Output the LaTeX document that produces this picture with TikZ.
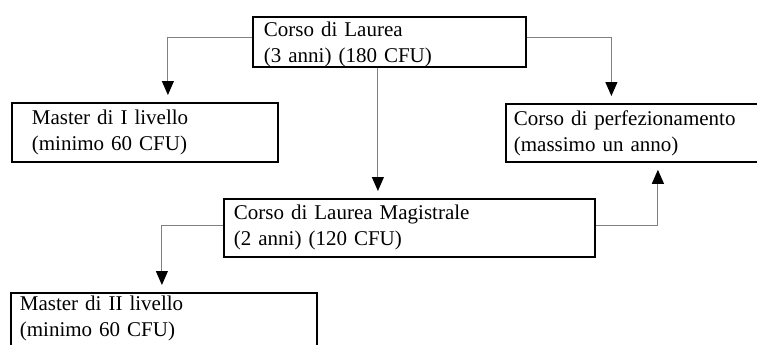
\documentclass[tikz,border=0pt]{standalone}
\usepackage{fontspec}
\setmainfont{Liberation Serif}
\usetikzlibrary{arrows.meta}

\tikzset{
    corso/.style={draw, line width=1.8pt, anchor=north west, align=left,
        inner ysep=0pt, font=\fontsize{21}{26}\selectfont},
    conn/.style={gray, line width=1pt, shorten >=7pt,
        -{Triangle[length=14pt, width=12pt, black]}}
}

\begin{document}
\begin{tikzpicture}[x=1pt, y=-1pt]
    \useasboundingbox (0,0) rectangle (757,345);

    % The boxes
    \node[corso, inner xsep=11pt, text width=251pt, minimum height=50pt, text depth=26pt] (laurea) at (252,16)
        {Corso di Laurea\\(3 anni) (180 CFU)};
    \node[corso, inner xsep=20pt, text width=226pt, minimum height=59pt] (master1) at (11,102)
        {Master di I livello\\(minimo 60 CFU)};
    % right side goes off the page
    \node[corso, inner xsep=8pt, text width=249pt, minimum height=58pt] (perf) at (505,103)
        {Corso di perfezionamento\\(massimo un anno)};
    \node[corso, inner xsep=10pt, text width=351pt, minimum height=58pt] (magistrale) at (223,198)
        {Corso di Laurea Magistrale\\(2 anni) (120 CFU)};
    % this one runs off the bottom of the page
    \node[corso, inner xsep=9pt, inner ysep=3.4pt, text width=288pt, text depth=56pt] (master2) at (10,292)
        {Master di II livello\\(minimo 60 CFU)};

    % Arrows out of the Laurea
    \draw[conn] ([yshift=4pt]laurea.west) -| ([xshift=23pt]master1.north);
    \draw[conn] ([yshift=4pt]laurea.east) -| ([xshift=-27pt]perf.north);
    \draw[conn] ([xshift=-11.5pt]laurea.south) -- ([xshift=-11.5pt]laurea.south |- magistrale.north);

    % Arrows out of the Magistrale
    \draw[conn] ([yshift=2.5pt]magistrale.west) -| ([xshift=-2pt]master2.north);
    \draw[conn] ([yshift=2.5pt]magistrale.east) -| ([xshift=19.5pt]perf.south);

\end{tikzpicture}
\end{document}
